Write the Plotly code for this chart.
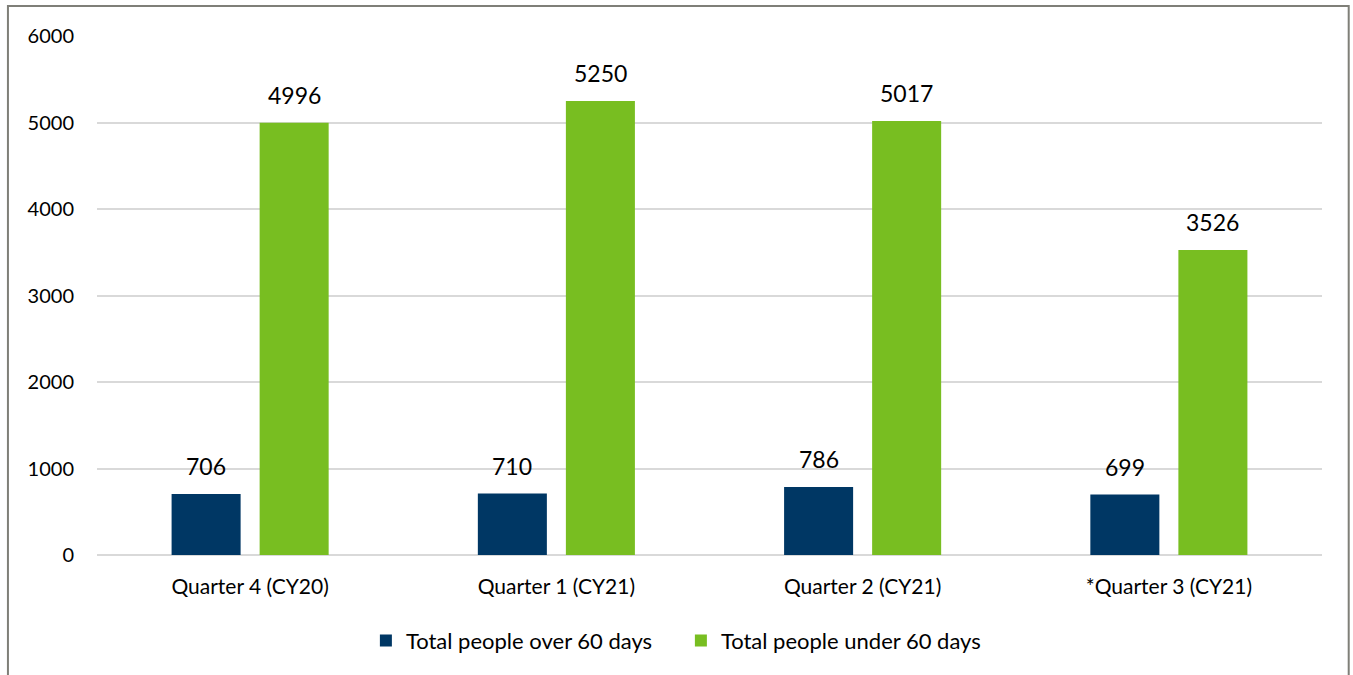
import plotly.graph_objects as go

quarters = ["Quarter 4 (CY20)", "Quarter 1 (CY21)", "Quarter 2 (CY21)", "*Quarter 3 (CY21)"]
over_60 = [706, 710, 786, 699]
under_60 = [4996, 5250, 5017, 3526]
y_ticks = [0, 1000, 2000, 3000, 4000, 5000, 6000]

NAVY = "#003764"
GREEN = "#78BE21"
FONT = "Lato, Carlito, Calibri, sans-serif"

fig = go.Figure()
fig.add_trace(go.Bar(name="Total people over 60 days", x=quarters, y=over_60,
                     marker=dict(color=NAVY, line=dict(width=0))))
fig.add_trace(go.Bar(name="Total people under 60 days", x=quarters, y=under_60,
                     marker=dict(color=GREEN, line=dict(width=0))))

# value labels above each bar
annotations = []
for series, shift in ((over_60, -44), (under_60, 44)):
    for q, v in zip(quarters, series):
        annotations.append(dict(x=q, y=v, xref="x", yref="y", text=str(v),
                                showarrow=False, xshift=shift, yshift=12,
                                yanchor="bottom",
                                font=dict(family=FONT, size=23, color="#000000")))

fig.update_layout(
    width=1353, height=675,
    margin=dict(l=97, r=31, t=36, b=120),
    paper_bgcolor="white", plot_bgcolor="white",
    barmode="group", bargap=0.425, bargroupgap=0.216,
    font=dict(family=FONT, size=21, color="#000000"),
    showlegend=True,
    legend=dict(orientation="h", x=0.2195, xanchor="left", y=-0.165, yanchor="middle",
                font=dict(family=FONT, size=22), itemwidth=30, tracegroupgap=0,
                entrywidth=270, entrywidthmode="pixels"),
    annotations=annotations,
    shapes=[dict(type="rect", xref="paper", yref="paper",
                 x0=-0.0727, x1=1.0218, y0=-0.5, y1=1.0578,
                 line=dict(color="#7f7f78", width=2), fillcolor="rgba(0,0,0,0)",
                 layer="above")],
)
fig.update_xaxes(showgrid=False, showline=False, ticks="",
                 tickfont=dict(family=FONT, size=21), ticklabelstandoff=17)
fig.update_yaxes(range=[0, 6000], tickvals=y_ticks, showgrid=True,
                 gridcolor="#d9d9d9", gridwidth=2, zeroline=True,
                 zerolinecolor="#d9d9d9", zerolinewidth=2, showline=False,
                 ticks="", tickfont=dict(family=FONT, size=20), ticklabelstandoff=22)

fig.write_html("out.html")
